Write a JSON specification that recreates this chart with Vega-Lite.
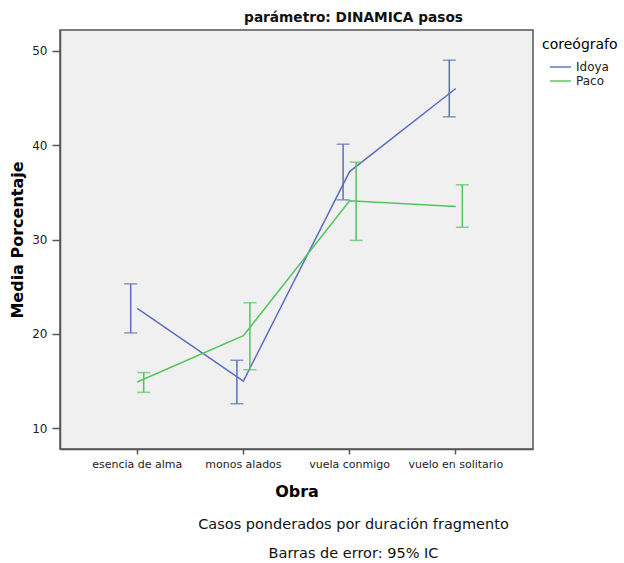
{
  "$schema": "https://vega.github.io/schema/vega-lite/v6.json",
  "padding": {"left": 8, "top": 10, "right": 4, "bottom": 4},
  "background": "white",
  "config": {
    "font": "DejaVu Sans",
    "view": {"fill": "#f0f0f0", "stroke": "#555555", "strokeWidth": 1.5},
    "concat": {"spacing": 0},
    "axis": {
      "grid": false,
      "domainColor": "#555555",
      "domainWidth": 1.5,
      "tickColor": "#555555",
      "tickWidth": 1.5,
      "labelColor": "#222222",
      "titleColor": "#000000",
      "titleFontWeight": "bold",
      "titleFontSize": 16
    },
    "legend": {
      "orient": "right",
      "offset": 0,
      "padding": 8,
      "titleFontSize": 14,
      "titleFontWeight": "normal",
      "titleColor": "#000000",
      "titlePadding": 7,
      "labelFontSize": 12,
      "labelColor": "#222222",
      "labelOffset": 7.5,
      "symbolType": "M-1.5,0H1.5",
      "symbolSize": 196,
      "symbolStrokeWidth": 2,
      "symbolOffset": 10.5,
      "rowPadding": 0
    }
  },
  "title": {
    "text": ["Casos ponderados por duración fragmento", "Barras de error: 95% IC"],
    "orient": "bottom",
    "anchor": "middle",
    "fontSize": 14.5,
    "fontWeight": "normal",
    "color": "#111111",
    "lineHeight": 29,
    "offset": 18,
    "dx": 36
  },
  "vconcat": [
    {
      "width": 473,
      "height": 419,
      "title": {
        "text": "parámetro: DINAMICA pasos",
        "anchor": "middle",
        "frame": "group",
        "fontSize": 13.7,
        "fontWeight": "bold",
        "color": "#111111",
        "dx": 57,
        "offset": 5
      },
      "data": {
        "values": [
          {"obra": "esencia de alma", "coreografo": "Idoya", "media": 22.7, "lo": 20.1, "hi": 25.3},
          {"obra": "monos alados", "coreografo": "Idoya", "media": 15.0, "lo": 12.6, "hi": 17.2},
          {"obra": "vuela conmigo", "coreografo": "Idoya", "media": 37.2, "lo": 34.2, "hi": 40.1},
          {"obra": "vuelo en solitario", "coreografo": "Idoya", "media": 46.0, "lo": 43.0, "hi": 49.0},
          {"obra": "esencia de alma", "coreografo": "Paco", "media": 14.9, "lo": 13.8, "hi": 15.9},
          {"obra": "monos alados", "coreografo": "Paco", "media": 19.8, "lo": 16.2, "hi": 23.3},
          {"obra": "vuela conmigo", "coreografo": "Paco", "media": 34.1, "lo": 29.9, "hi": 38.2},
          {"obra": "vuelo en solitario", "coreografo": "Paco", "media": 33.5, "lo": 31.3, "hi": 35.8}
        ]
      },
      "encoding": {
        "x": {
          "field": "obra",
          "type": "nominal",
          "sort": ["esencia de alma", "monos alados", "vuela conmigo", "vuelo en solitario"],
          "scale": {"type": "band", "paddingInner": 0.755, "paddingOuter": 0.6045},
          "axis": {"title": "Obra", "labelAngle": 0, "labelFontSize": 11, "tickSize": 5, "labelPadding": 4, "titlePadding": 14}
        },
        "color": {
          "field": "coreografo",
          "type": "nominal",
          "title": "coreógrafo",
          "scale": {"domain": ["Idoya", "Paco"], "range": ["#5b6ebf", "#50c65b"]}
        }
      },
      "layer": [
        {
          "mark": {"type": "line", "strokeWidth": 1.5},
          "encoding": {
            "y": {
              "field": "media",
              "type": "quantitative",
              "scale": {"domain": [7.8, 52.2], "nice": false, "zero": false},
              "axis": {"title": "Media Porcentaje", "values": [10, 20, 30, 40, 50], "labelFontSize": 12, "tickSize": 8, "labelPadding": 5, "titlePadding": 6}
            }
          }
        },
        {
          "mark": {"type": "rule", "strokeWidth": 1.5},
          "encoding": {
            "xOffset": {"field": "coreografo", "type": "nominal", "scale": {"paddingInner": 0, "paddingOuter": 0}},
            "y": {"field": "lo", "type": "quantitative"},
            "y2": {"field": "hi"}
          }
        },
        {
          "mark": {"type": "tick", "size": 13, "thickness": 1.5, "orient": "horizontal"},
          "encoding": {
            "xOffset": {"field": "coreografo", "type": "nominal"},
            "y": {"field": "lo", "type": "quantitative"}
          }
        },
        {
          "mark": {"type": "tick", "size": 13, "thickness": 1.5, "orient": "horizontal"},
          "encoding": {
            "xOffset": {"field": "coreografo", "type": "nominal"},
            "y": {"field": "hi", "type": "quantitative"}
          }
        }
      ]
    }
  ]
}
